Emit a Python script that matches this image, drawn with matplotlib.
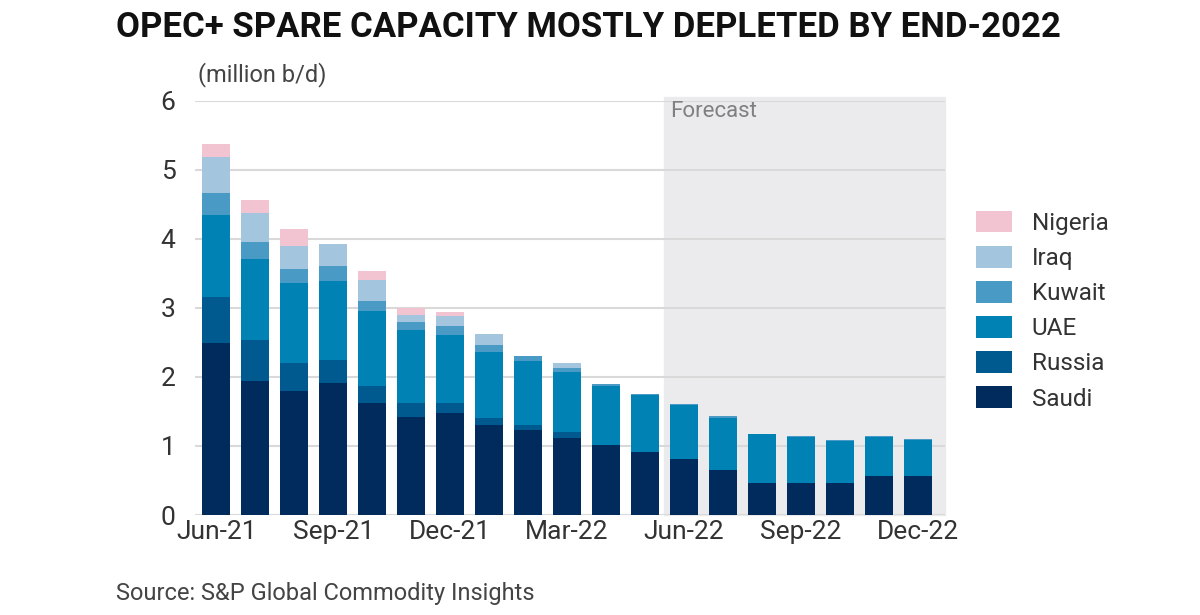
import matplotlib
matplotlib.use("Agg")
import matplotlib.pyplot as plt
import numpy as np

months = ["Jun-21","Jul-21","Aug-21","Sep-21","Oct-21","Nov-21","Dec-21","Jan-22","Feb-22","Mar-22",
          "Apr-22","May-22","Jun-22","Jul-22","Aug-22","Sep-22","Oct-22","Nov-22","Dec-22"]
saudi   = [2.49,1.94,1.79,1.92,1.62,1.42,1.48,1.30,1.23,1.12,1.01,0.92,0.81,0.65,0.46,0.46,0.46,0.57,0.56]
russia  = [0.67,0.59,0.41,0.33,0.25,0.21,0.14,0.10,0.07,0.08,0.00,0.00,0.00,0.00,0.00,0.00,0.00,0.00,0.00]
uae     = [1.19,1.18,1.16,1.14,1.08,1.05,0.99,0.96,0.93,0.87,0.86,0.82,0.78,0.76,0.71,0.67,0.61,0.56,0.53]
kuwait  = [0.31,0.25,0.21,0.22,0.15,0.12,0.13,0.10,0.07,0.06,0.03,0.02,0.02,0.02,0.01,0.01,0.01,0.01,0.01]
iraq    = [0.53,0.42,0.33,0.32,0.30,0.10,0.14,0.17,0.01,0.08,0.00,0.00,0.00,0.00,0.00,0.00,0.00,0.00,0.00]
nigeria = [0.18,0.18,0.24,0.00,0.13,0.10,0.06,0.00,0.00,0.00,0.00,0.00,0.00,0.00,0.00,0.00,0.00,0.00,0.00]

series = [("Saudi", saudi, "#002b5c"), ("Russia", russia, "#005a8f"), ("UAE", uae, "#0082b4"),
          ("Kuwait", kuwait, "#4a9ac6"), ("Iraq", iraq, "#a3c6de"), ("Nigeria", nigeria, "#f2c4d2")]

plt.rcParams['font.family'] = ['Roboto', 'DejaVu Sans']
fig = plt.figure(figsize=(12, 6.15), dpi=100)
ax = fig.add_axes([0.1625, 0.1626, 0.625, 0.6732])
x = np.arange(len(months))
ax.axvspan(11.5, 18.7, ymin=0, ymax=1.01, color="#ebebed", zorder=0, clip_on=False)
bottom = np.zeros(len(months))
handles = []
for name, vals, col in series:
    v = np.array(vals)
    h = ax.bar(x, v, 0.72, bottom=bottom, color=col, zorder=2, label=name)
    handles.append(h)
    bottom += v
ax.set_xlim(-0.55, 18.7)
ax.set_ylim(0, 6)
ax.set_yticks(range(7))
ax.yaxis.grid(True, color="#d9d9d9", lw=1.5, zorder=1)
ax.set_axisbelow(True)
ax.set_xticks(x[::3])
ax.set_xticklabels(months[::3])
ax.tick_params(axis="both", length=0, labelsize=19, colors="#333333")
ax.tick_params(axis="y", pad=14)
for s in ax.spines.values():
    s.set_visible(False)
ax.text(11.65, 5.85, "Forecast", fontsize=16, color="#808080", va="center")
leg = fig.legend(handles[::-1], [s[0] for s in series][::-1], loc="center left",
                 bbox_to_anchor=(0.795, 0.495), frameon=False, fontsize=17.5,
                 handlelength=1.5, handleheight=1.0, labelspacing=0.45, labelcolor="#333333")
fig.text(0.097, 0.955, "OPEC+ SPARE CAPACITY MOSTLY DEPLETED BY END-2022", fontsize=25,
         fontweight="bold", color="#111111", va="center", stretch="condensed")
fig.text(0.165, 0.878, "(million b/d)", fontsize=17, color="#444444", va="center")
fig.text(0.097, 0.035, "Source: S&P Global Commodity Insights", fontsize=17, color="#444444", va="center")
fig.savefig("out.png", dpi=100)
